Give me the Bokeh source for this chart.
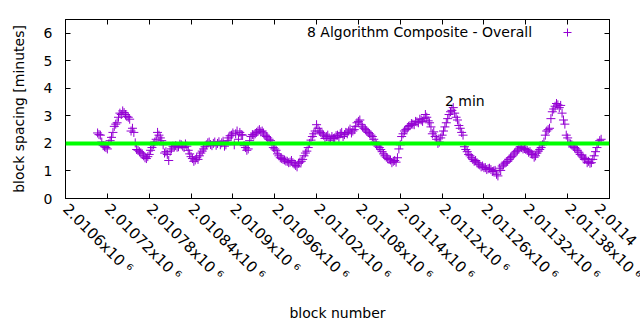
import math
from bokeh.plotting import figure
from bokeh.models import Range1d, FixedTicker, LinearAxis, Span, Label, Legend, LegendItem
from bokeh.embed import file_html
from bokeh.resources import INLINE

# ---- data (two interleaved block sets) ----
block_start = 2010706
block_step = 4
spacing_minutes = [
    2.38, 2.30, 1.92, 1.85, 1.98, 2.22, 2.62, 2.75, 3.10, 3.18,
    3.05, 2.95, 2.45, 2.40, 1.78, 1.70, 1.62, 1.48, 1.52,
    1.75, 1.95, 2.15, 2.30, 2.10, 1.65, 1.60, 1.72, 1.90,
    1.92, 1.88, 1.95, 1.85, 1.90, 1.62, 1.45, 1.40, 1.42,
    1.65, 1.80, 1.95, 2.05, 1.92, 2.05, 2.00, 1.95, 2.08, 1.95,
    2.20, 2.30, 1.95, 2.45, 2.40, 2.30, 1.85, 1.80, 2.25,
    2.30, 2.40, 2.50, 2.45, 2.30, 2.20, 2.10, 1.85, 1.75,
    1.55, 1.45, 1.40, 1.35, 1.32, 1.30, 1.20, 1.28, 1.35,
    1.55, 1.72, 2.00, 2.25, 2.45, 2.55, 2.40, 2.30, 2.25, 2.20,
    2.25, 2.20, 2.30, 2.35, 2.25, 2.40, 2.45, 2.38, 2.50,
    2.75, 2.85, 2.60, 2.50, 2.40, 2.30, 2.15, 1.95, 1.85,
    1.70, 1.55, 1.45, 1.40, 1.35, 1.32, 1.80, 2.25, 2.45,
    2.55, 2.65, 2.70, 2.80, 2.75, 2.85, 2.90, 2.95, 2.75,
    2.35, 2.25, 2.00, 2.20, 2.45, 2.75, 3.05, 3.20, 3.10, 2.85,
    2.55, 2.30, 1.78, 1.60, 1.48, 1.35, 1.30, 1.22, 1.18,
    1.12, 1.08, 1.05, 1.00, 0.88, 1.10, 1.18, 1.28, 1.35,
    1.48, 1.58, 1.70, 1.80, 1.85, 1.82, 1.75, 1.70, 1.60,
    1.55, 1.72, 1.85, 2.05, 2.45, 2.55, 3.15, 3.35, 3.40, 3.38,
    2.85, 2.30, 2.00, 1.95, 1.85, 1.75, 1.60, 1.50, 1.45,
    1.35, 1.30, 1.55, 1.85, 2.10,
]
spacing_minutes_mid = [
    2.32, 2.05, 1.88, 1.80, 2.10, 2.40, 2.70, 2.95, 3.05, 3.12,
    2.98, 2.88, 2.55, 2.02, 1.75, 1.66, 1.55, 1.45, 1.60,
    1.85, 2.05, 2.40, 2.20, 1.95, 1.70, 1.38, 1.80, 1.88,
    1.86, 1.97, 1.90, 1.98, 1.75, 1.52, 1.35, 1.48, 1.55,
    1.72, 1.88, 2.02, 1.96, 2.00, 1.93, 2.06, 2.02, 1.90, 2.10,
    2.28, 2.38, 2.35, 2.15, 2.32, 1.92, 1.75, 2.10, 2.32,
    2.35, 2.45, 2.42, 2.38, 2.25, 2.15, 1.95, 1.80, 1.62,
    1.48, 1.42, 1.36, 1.30, 1.38, 1.25, 1.15, 1.32, 1.42,
    1.65, 1.85, 2.12, 2.35, 2.68, 2.45, 2.35, 2.18, 2.30, 2.12,
    2.18, 2.28, 2.22, 2.40, 2.32, 2.35, 2.52, 2.45, 2.62,
    2.80, 2.68, 2.55, 2.45, 2.35, 2.25, 2.05, 1.90, 1.78,
    1.62, 1.50, 1.42, 1.30, 1.38, 1.48, 1.95, 2.35, 2.50,
    2.62, 2.72, 2.68, 2.78, 2.88, 2.80, 3.05, 2.82, 2.60,
    2.42, 2.15, 2.05, 2.30, 2.60, 2.90, 3.15, 3.30, 2.95, 2.65,
    2.40, 1.88, 1.70, 1.55, 1.42, 1.38, 1.25, 1.15, 1.12,
    1.05, 1.10, 0.98, 1.02, 0.82, 1.02, 1.22, 1.32, 1.42,
    1.52, 1.65, 1.75, 1.88, 1.80, 1.78, 1.68, 1.62, 1.50,
    1.65, 1.78, 1.95, 2.30, 2.50, 2.90, 3.25, 3.45, 3.30, 3.10,
    2.70, 2.20, 1.98, 1.90, 1.80, 1.68, 1.55, 1.42, 1.30,
    1.28, 1.42, 1.70, 2.00, 2.15,
]
blocks_all = ([block_start + block_step * i for i in range(len(spacing_minutes))] +
              [block_start + 2 + block_step * i for i in range(len(spacing_minutes_mid))])
values_all = spacing_minutes + spacing_minutes_mid

target_minutes = 2
series_name = "8 Algorithm Composite - Overall"
note_text = "2 min"
note_block = 2011204
note_value = 3.55

x_tick_values = [2010660, 2010720, 2010780, 2010840, 2010900, 2010960, 2011020,
                 2011080, 2011140, 2011200, 2011260, 2011320, 2011380, 2011440]
# the last label runs off the page in the reference; only its visible part is kept
x_tick_labels = ["2.0106x10 ⁶", "2.01072x10 ⁶", "2.01078x10 ⁶", "2.01084x10 ⁶",
                 "2.0109x10 ⁶", "2.01096x10 ⁶", "2.01102x10 ⁶", "2.01108x10 ⁶",
                 "2.01114x10 ⁶", "2.0112x10 ⁶", "2.01126x10 ⁶", "2.01132x10 ⁶",
                 "2.01138x10 ⁶", "2.0114"]
y_tick_values = [0, 1, 2, 3, 4, 5, 6]

FONT = "DejaVu Sans"
FS = "14px"
XFS = "15px"
PURPLE = "#9400d3"
GREEN = "#00ff00"

p = figure(width=640, height=330, output_backend="svg", toolbar_location=None,
           x_range=Range1d(2010660, 2011440), y_range=Range1d(0, 6.5),
           min_border_left=65, min_border_right=31, min_border_top=19, min_border_bottom=132)
p.background_fill_color = "white"
p.border_fill_color = "white"
p.outline_line_color = "black"
p.outline_line_width = 1
p.grid.visible = False

r = p.scatter(blocks_all, values_all, marker="cross", size=9, line_width=1,
              line_color=PURPLE, fill_color=None)

p.add_layout(Span(location=target_minutes, dimension="width", line_color=GREEN, line_width=4))

p.add_layout(Label(x=note_block, y=note_value, text=note_text, text_font=FONT,
                   text_font_size=FS, text_baseline="middle", text_align="left",
                   text_color="black"))

# legend: text on the left, marker sample on the right (gnuplot style)
p.add_layout(Label(x=2011329, y=6.05, text=series_name, text_font=FONT, text_font_size=FS,
                   text_baseline="middle", text_align="right", text_color="black"))
leg = Legend(items=[LegendItem(label="", renderers=[r])], location=(492, 156),
             border_line_color=None, background_fill_alpha=0, padding=0, margin=0,
             spacing=0, glyph_width=20, glyph_height=20, label_standoff=0, label_width=0,
             label_height=20)
p.add_layout(leg)

xt = FixedTicker(ticks=x_tick_values)
yt = FixedTicker(ticks=y_tick_values)

def style_axis(ax, ticker, show_labels):
    ax.ticker = ticker
    ax.major_tick_in = 5
    ax.major_tick_out = 0
    ax.minor_tick_in = 0
    ax.minor_tick_out = 0
    ax.axis_line_color = "black"
    ax.major_tick_line_color = "black"
    ax.major_label_text_font = FONT
    ax.major_label_text_font_size = FS
    ax.major_label_text_color = "black" if show_labels else None
    ax.axis_label_text_font = FONT
    ax.axis_label_text_font_size = FS
    ax.axis_label_text_font_style = "normal"
    ax.axis_label_text_color = "black"

xa = p.xaxis[0]
style_axis(xa, xt, True)
xa.major_label_overrides = {v: s for v, s in zip(x_tick_values, x_tick_labels)}
xa.major_label_orientation = -math.pi / 4
xa.major_label_text_font_size = XFS
xa.major_label_standoff = 8
xa.axis_label = "block number"
xa.axis_label_standoff = 12

ya = p.yaxis[0]
style_axis(ya, yt, True)
ya.major_label_standoff = 13
ya.axis_label = "block spacing [minutes]"
ya.axis_label_standoff = 14

ra = LinearAxis()
style_axis(ra, yt, False)
p.add_layout(ra, "right")
ta = LinearAxis()
style_axis(ta, xt, False)
p.add_layout(ta, "above")

open("out.html", "w").write(file_html(p, INLINE))
